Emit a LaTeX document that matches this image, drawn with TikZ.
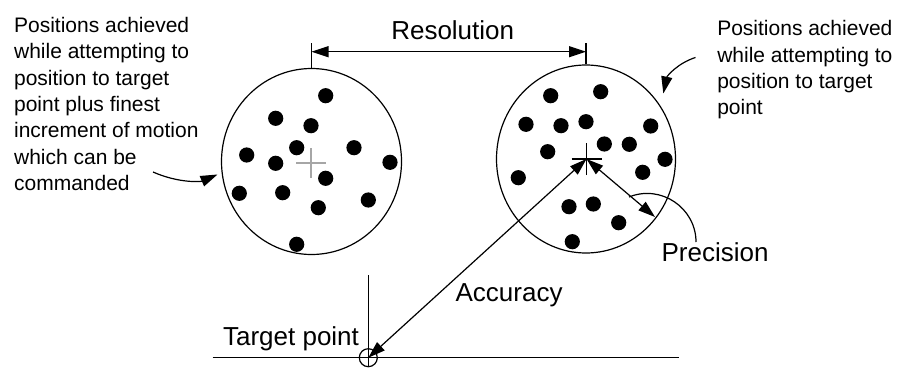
\documentclass[tikz,border=0pt]{standalone}
\usepackage{fontspec}
\setmainfont{Liberation Sans}
\usetikzlibrary{arrows.meta,shapes.geometric}
\tikzset{
  pic/.style={x=1pt,y=-1pt,line width=1.2pt},
  ring/.style={draw,ellipse,line width=1.2pt,minimum width=180pt,minimum height=186pt,inner sep=0pt},
  tip/.tip={Triangle[length=17pt,width=11pt]},
  small/.style={font=\fontsize{21}{26.4}\selectfont,align=left,inner sep=0pt,anchor=north west},
  label/.style={font=\fontsize{26}{30}\selectfont,inner sep=0pt},
  crossline/.style={line width=1.2pt}
}
\newcommand{\spot}[2]{\fill (#1,#2) circle (7.6pt);}
\begin{document}
\begin{tikzpicture}[pic]
\useasboundingbox (0,0) rectangle (910,369);
% circles
\node[ring] (L) at (311.5,161.5) {};
\node[ring,minimum width=179pt,minimum height=188pt] (R) at (586,159) {};
% crosses
\coordinate (cL) at (311,163);
\coordinate (cR) at (586.5,159);
\draw[crossline,gray!70] ([xshift=-15pt]cL) -- ([xshift=15pt]cL);
\draw[crossline,gray!70] ([yshift=-15pt]cL) -- ([yshift=15pt]cL);
\draw[crossline] ([xshift=-15pt]cR) -- ([xshift=15pt]cR);
\draw[crossline] ([yshift=-16pt]cR) -- ([yshift=16pt]cR);
% left dots
\spot{325.7}{95.7}\spot{275.7}{118.3}\spot{311}{125.7}\spot{296.7}{147.7}
\spot{354}{147.7}\spot{246.7}{155}\spot{275.7}{163.3}\spot{390}{162.3}
\spot{325.7}{178.3}\spot{239.3}{193.3}\spot{282.7}{192.7}\spot{368.3}{200}
\spot{318.3}{207.7}\spot{296.7}{244.3}
% right dots
\spot{550.7}{95.7}\spot{600.7}{91.7}\spot{526}{124.3}\spot{561}{125.7}
\spot{586}{121.7}\spot{650.7}{126}\spot{604.3}{144}\spot{629.3}{144.3}
\spot{547.7}{151.7}\spot{665}{159.3}\spot{642.7}{172.3}\spot{518.3}{177.7}
\spot{569}{206.7}\spot{593.3}{204}\spot{618.7}{222.7}\spot{572.3}{241.7}
% resolution
\coordinate (rL) at (L.north |- 0,43);
\coordinate (rR) at (R.north |- 0,43);
\draw (L.north) -- (rL);
\draw (R.north) -- (rR);
\draw[{tip}-{tip}] (L.north |- 0,51.7) -- (R.north |- 0,51.7);
\node[label,anchor=base] (res) at (452.7,39.3) {Resolution};
% target
\coordinate (hL) at (212.7,357.7);
\coordinate (hR) at (679,357.7);
\draw (hL) -- (hR);
\node[draw,circle,minimum size=18pt,inner sep=0pt,line width=1.2pt] (T) at (368.3,357.7) {};
\coordinate (vT) at (368.3,275);
\draw (vT) -- (T.south);
\node[label,anchor=base west] (tp) at (222.5,345) {Target point};
% accuracy
\draw[{tip}-{tip}] (T.center) -- (cR);
\node[label,anchor=base west] (acc) at (455,301.7) {Accuracy};
% precision
\coordinate (pE) at (655,217);
\draw[{tip}-{tip}] (cR) -- (pE);
\coordinate (pS) at (629,197);
\coordinate (pT) at (696,242);
\draw (pS) .. controls (661,184) and (696,208) .. (pT);
\node[label,anchor=base west] (prec) at (661,261.7) {Precision};
% side texts
\node[small] (tl) at (13.5,16.5) {Positions achieved\\while attempting to\\position to target\\point plus finest\\increment of motion\\which can be\\commanded};
\node[small] (tr) at (716.7,19.8) {Positions achieved\\while attempting to\\position to target\\point};
\coordinate (aL0) at (153,172);
\coordinate (aL1) at (217.5,174.5);
\draw[-{tip}] (aL0) .. controls (178,183) and (200,182) .. (aL1);
\coordinate (aR0) at (695.5,57.5);
\coordinate (aR1) at (663.3,93.5);
\draw[-{tip}] (aR0) .. controls (678,63) and (667,76) .. (aR1);
\end{tikzpicture}
\end{document}
